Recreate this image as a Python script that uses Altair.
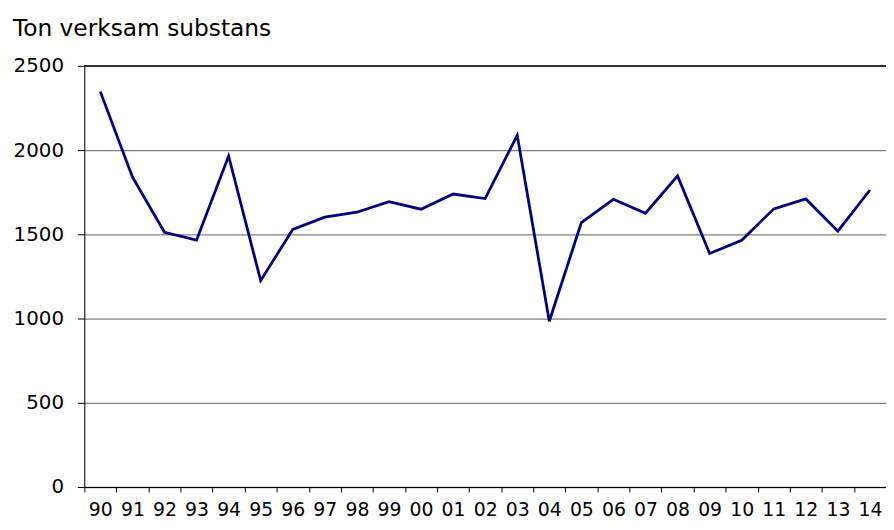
import altair as alt
import pandas as pd

years = ["90", "91", "92", "93", "94", "95", "96", "97", "98", "99", "00", "01", "02",
         "03", "04", "05", "06", "07", "08", "09", "10", "11", "12", "13", "14"]
values = [2347, 1841, 1512, 1465, 1965, 1225, 1529, 1602, 1631, 1694, 1649, 1739, 1712,
          2088, 984, 1569, 1708, 1625, 1847, 1386, 1465, 1651, 1710, 1519, 1763]
y_ticks = [0, 500, 1000, 1500, 2000, 2500]
title_text = "Ton verksam substans"

df = pd.DataFrame({"year": years, "value": values})
FONT = "DejaVu Sans"

x_enc = alt.X("year:O", sort=years, bandPosition=0.5,
              scale=alt.Scale(type="band", paddingInner=0, paddingOuter=0),
              axis=alt.Axis(title=None, labelAngle=0, tickBand="extent", tickSize=5,
                            tickColor="#000000", domainColor="#000000", labelPadding=9,
                            labelFontSize=19, labelFont=FONT, labelColor="#000000",
                            grid=False, labelBaseline="top"))
y_enc = alt.Y("value:Q", scale=alt.Scale(domain=[0, 2500], nice=False),
              axis=alt.Axis(title=None, values=y_ticks, format="d", tickSize=7,
                            tickColor="#000000", domainColor="#000000", labelPadding=14,
                            labelFontSize=20, labelFont=FONT, labelColor="#000000",
                            grid=True, gridColor="#808080", gridWidth=1.3))

line = alt.Chart(df).mark_line(color="#000080", strokeWidth=2.8).encode(x=x_enc, y=y_enc)

top = alt.Chart(df).mark_rule(color="#333333", strokeWidth=1.5).encode(
    y=alt.datum(y_ticks[-1]))

ttl = alt.Chart(pd.DataFrame({"t": [title_text]})).mark_text(
    align="left", baseline="alphabetic", fontSize=23.5, font=FONT, color="#000000").encode(
    text="t:N", x=alt.value(-72), y=alt.value(-30))

chart = alt.layer(line, top, ttl).properties(
    width=809, height=425,
    autosize=alt.AutoSizeParams(type="none"),
    padding={"left": 77, "top": 56, "right": 0, "bottom": 40},
).configure_view(stroke=None).configure(background="#ffffff")

chart.save("out.html", embed_options={"renderer": "svg", "actions": False})
